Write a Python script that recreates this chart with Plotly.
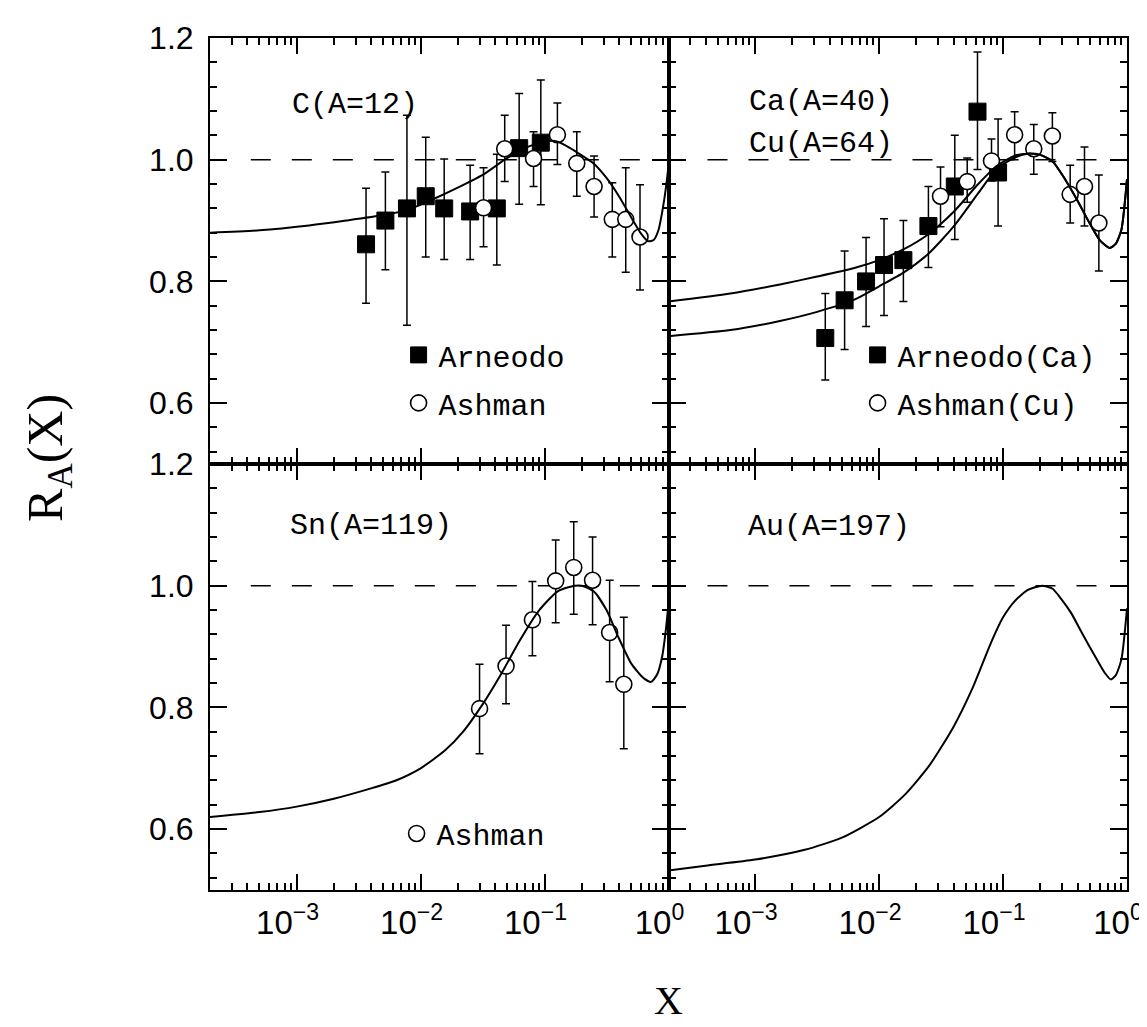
import plotly.graph_objects as go
from plotly.subplots import make_subplots

# ---------------- data ----------------
# C (A=12)
c_arn_x = [0.00363, 0.0052, 0.00776, 0.0110, 0.0155, 0.0251, 0.0412, 0.0624, 0.0933]
c_arn_y = [0.861, 0.900, 0.920, 0.940, 0.920, 0.915, 0.920, 1.019, 1.028]
c_arn_hi = [0.953, 0.980, 1.073, 1.037, 1.001, 0.991, 1.009, 1.109, 1.131]
c_arn_lo = [0.764, 0.819, 0.728, 0.840, 0.836, 0.836, 0.827, 0.927, 0.926]

c_ash_x = [0.0322, 0.0477, 0.0815, 0.127, 0.182, 0.251, 0.352, 0.452, 0.589]
c_ash_y = [0.921, 1.018, 1.002, 1.041, 0.994, 0.956, 0.902, 0.902, 0.873]
c_ash_hi = [0.987, 1.073, 1.046, 1.093, 1.046, 1.006, 0.962, 0.987, 0.959]
c_ash_lo = [0.857, 0.964, 0.956, 0.992, 0.940, 0.906, 0.840, 0.815, 0.786]

c_curve_logx = [-3.7, -3.3, -2.9, -2.6, -2.3, -2.1, -1.9, -1.7, -1.5, -1.3, -1.15, -1.0,
                -0.9, -0.8, -0.7, -0.6, -0.5, -0.4, -0.3, -0.22, -0.165, -0.12, -0.08,
                -0.05, -0.02, 0.0]
c_curve_y = [0.880, 0.884, 0.892, 0.900, 0.909, 0.918, 0.935, 0.954, 0.975, 1.003, 1.020,
             1.030, 1.030, 1.020, 1.007, 0.993, 0.970, 0.940, 0.905, 0.878, 0.866, 0.868,
             0.885, 0.915, 0.955, 0.990]

# Ca (A=40) / Cu (A=64)
ca_arn_x = [0.00368, 0.00527, 0.00785, 0.01096, 0.0157, 0.0250, 0.0408, 0.0622, 0.0912]
ca_arn_y = [0.707, 0.769, 0.800, 0.827, 0.835, 0.891, 0.956, 1.079, 0.979]
ca_arn_hi = [0.780, 0.850, 0.872, 0.903, 0.900, 0.956, 1.040, 1.177, 1.067]
ca_arn_lo = [0.638, 0.688, 0.726, 0.744, 0.767, 0.823, 0.869, 0.984, 0.891]

cu_ash_x = [0.0313, 0.0514, 0.0807, 0.124, 0.177, 0.250, 0.348, 0.454, 0.593]
cu_ash_y = [0.940, 0.964, 0.998, 1.041, 1.018, 1.039, 0.943, 0.956, 0.896]
cu_ash_hi = [0.988, 1.003, 1.034, 1.079, 1.058, 1.077, 0.991, 1.021, 0.975]
cu_ash_lo = [0.890, 0.930, 0.965, 1.000, 0.976, 0.997, 0.896, 0.891, 0.817]

ca_curve_logx = [-3.7, -3.2, -2.8, -2.5, -2.2, -2.0, -1.8, -1.6, -1.4, -1.2, -1.05, -0.9,
                 -0.8, -0.7, -0.6, -0.5, -0.4, -0.3, -0.22, -0.14, -0.09, -0.045, 0.0]
ca_curve_y = [0.767, 0.780, 0.795, 0.808, 0.822, 0.835, 0.853, 0.878, 0.914, 0.960, 0.990,
              1.007, 1.010, 1.008, 0.997, 0.968, 0.933, 0.895, 0.868, 0.855, 0.862, 0.885,
              0.968]
cu_curve_logx = [-3.7, -3.2, -2.8, -2.5, -2.2, -2.0, -1.8, -1.6, -1.4, -1.2, -1.05, -0.9,
                 -0.8, -0.7, -0.6, -0.5, -0.4, -0.3, -0.22, -0.14, -0.09, -0.045, 0.0]
cu_curve_y = [0.710, 0.720, 0.735, 0.750, 0.770, 0.792, 0.815, 0.846, 0.890, 0.945, 0.985,
              1.004, 1.010, 1.008, 0.997, 0.968, 0.933, 0.895, 0.868, 0.855, 0.862, 0.885,
              0.968]

# Sn (A=119)
sn_ash_x = [0.0299, 0.0489, 0.0798, 0.123, 0.172, 0.244, 0.335, 0.436]
sn_ash_y = [0.798, 0.868, 0.944, 1.008, 1.030, 1.009, 0.923, 0.838]
sn_ash_hi = [0.871, 0.935, 1.007, 1.075, 1.105, 1.080, 1.009, 0.948]
sn_ash_lo = [0.724, 0.806, 0.885, 0.939, 0.953, 0.936, 0.842, 0.732]

sn_curve_logx = [-3.7, -3.3, -3.0, -2.7, -2.4, -2.2, -2.0, -1.8, -1.65, -1.5, -1.35, -1.2,
                 -1.05, -0.9, -0.8, -0.7, -0.6, -0.5, -0.41, -0.3, -0.2, -0.14, -0.09,
                 -0.05, -0.02, 0.0]
sn_curve_y = [0.620, 0.628, 0.637, 0.650, 0.667, 0.680, 0.700, 0.730, 0.762, 0.805, 0.855,
              0.910, 0.958, 0.990, 0.998, 1.000, 0.990, 0.960, 0.918, 0.872, 0.848, 0.842,
              0.855, 0.885, 0.930, 0.970]

# Au (A=197)
au_curve_logx = [-3.7, -3.4, -3.0, -2.6, -2.3, -2.0, -1.8, -1.6, -1.4, -1.25, -1.1, -1.0,
                 -0.9, -0.8, -0.685, -0.6, -0.53, -0.45, -0.36, -0.244, -0.18, -0.13,
                 -0.09, -0.045, 0.0]
au_curve_y = [0.532, 0.540, 0.550, 0.566, 0.586, 0.620, 0.655, 0.703, 0.768, 0.830, 0.905,
              0.948, 0.976, 0.993, 1.000, 0.995, 0.978, 0.955, 0.921, 0.879, 0.857, 0.846,
              0.853, 0.879, 0.963]

x_tick_vals = [1e-3, 1e-2, 1e-1, 1.0]
x_tick_text = ["10<sup>\u22123</sup>", "10<sup>\u22122</sup>", "10<sup>\u22121</sup>", "10<sup>0</sup>"]
y_tick_vals = [0.6, 0.8, 1.0, 1.2]
y_tick_text = ["0.6", "0.8", "1.0", "1.2"]

# ---------------- figure ----------------
W, H = 1147, 1027
L, R, T, B = 202, 26, 15, 145
PW, PH = W - L - R, H - T - B


def px(xp):
    return (xp - L) / PW


def py(yp):
    return 1 - (yp - T) / PH


fig = make_subplots(rows=2, cols=2, horizontal_spacing=0, vertical_spacing=0)

MONO = "Liberation Mono, Courier New, monospace"
TICKF = "Liberation Sans Narrow, Liberation Sans, Arial, sans-serif"


def err(y, hi, lo):
    return dict(type="data", symmetric=False,
                array=[h - v for h, v in zip(hi, y)],
                arrayminus=[v - l for v, l in zip(y, lo)],
                color="black", thickness=1.5, width=4)


def squares(x, y, hi, lo, name, legend, row, col):
    fig.add_trace(go.Scatter(x=x, y=y, mode="markers", name=name, legend=legend,
                             legendgroup=name + legend,
                             marker=dict(symbol="square", size=17, color="black",
                                         line=dict(color="black", width=1)),
                             error_y=err(y, hi, lo)), row=row, col=col)


def circles(x, y, hi, lo, name, legend, row, col):
    fig.add_trace(go.Scatter(x=x, y=y, mode="markers", name=name, legend=legend,
                             legendgroup=name + legend,
                             marker=dict(symbol="circle", size=16, color="white",
                                         line=dict(color="black", width=1.6)),
                             error_y=err(y, hi, lo)), row=row, col=col)


def curve(lx, y, row, col):
    fig.add_trace(go.Scatter(x=[10 ** v for v in lx], y=y, mode="lines",
                             line=dict(color="black", width=2, shape="spline", smoothing=0.6),
                             showlegend=False, hoverinfo="skip"), row=row, col=col)


squares(c_arn_x, c_arn_y, c_arn_hi, c_arn_lo, "Arneodo", "legend", 1, 1)
circles(c_ash_x, c_ash_y, c_ash_hi, c_ash_lo, "Ashman", "legend", 1, 1)
curve(c_curve_logx, c_curve_y, 1, 1)

squares(ca_arn_x, ca_arn_y, ca_arn_hi, ca_arn_lo, "Arneodo(Ca)", "legend2", 1, 2)
circles(cu_ash_x, cu_ash_y, cu_ash_hi, cu_ash_lo, "Ashman(Cu)", "legend2", 1, 2)
curve(ca_curve_logx, ca_curve_y, 1, 2)
curve(cu_curve_logx, cu_curve_y, 1, 2)

circles(sn_ash_x, sn_ash_y, sn_ash_hi, sn_ash_lo, "Ashman", "legend3", 2, 1)
curve(sn_curve_logx, sn_curve_y, 2, 1)

curve(au_curve_logx, au_curve_y, 2, 2)

minor_x = [m * 10.0 ** e for e in range(-4, 0) for m in range(2, 10)]
minor_y = [0.52, 0.56, 0.64, 0.68, 0.72, 0.76, 0.84, 0.88, 0.92, 0.96, 1.04, 1.08, 1.12, 1.16]

for r, c in [(1, 1), (1, 2), (2, 1), (2, 2)]:
    fig.update_xaxes(type="log", range=[-3.699, 0.0], showline=True, linecolor="black",
                     linewidth=2, mirror="ticks", ticks="inside", ticklen=16, tickwidth=1.5,
                     tickcolor="black", tickmode="array", tickvals=x_tick_vals,
                     ticktext=x_tick_text, showticklabels=(r == 2), showgrid=False,
                     zeroline=False, ticklabelshift=-9, ticklabelstandoff=2,
                     tickfont=dict(family=TICKF, size=33, color="black"),
                     minor=dict(ticks="inside", ticklen=7, tickwidth=1.5, tickcolor="black",
                                tickmode="array", tickvals=minor_x, showgrid=False),
                     row=r, col=c)
    fig.update_yaxes(range=[0.5, 1.2], showline=True, linecolor="black", linewidth=2,
                     mirror="ticks", ticks="inside", ticklen=17, tickwidth=1.5,
                     tickcolor="black", tickmode="array", tickvals=y_tick_vals,
                     ticktext=y_tick_text, showticklabels=(c == 1), showgrid=False,
                     zeroline=False, ticklabelstandoff=8,
                     tickfont=dict(family=TICKF, size=32, color="black"),
                     minor=dict(ticks="inside", ticklen=7, tickwidth=1.5, tickcolor="black",
                                tickmode="array", tickvals=minor_y, showgrid=False),
                     row=r, col=c)

# dashed R=1 reference lines
for xr, yr, start in [("x", "y", 0.089), ("x2", "y2", 0.085), ("x3", "y3", 0.089), ("x4", "y4", 0.085)]:
    fig.add_shape(type="line", xref=xr + " domain", yref=yr, x0=start, x1=1.0, y0=1.0, y1=1.0,
                  line=dict(color="black", width=1.5, dash="20px,21px"), layer="below")

# panel labels
labels = [("C(A=12)", 282, 83), ("Ca(A=40)", 740, 80), ("Cu(A=64)", 740, 123),
          ("Sn(A=119)", 280, 512), ("Au(A=197)", 739, 513)]
for txt, xp, yp in labels:
    fig.add_annotation(text=txt, xref="paper", yref="paper", x=px(xp), y=py(yp),
                       xanchor="left", yanchor="middle", showarrow=False,
                       font=dict(family=MONO, size=30, color="black"))

# axis titles
fig.add_annotation(text="R<sub>A</sub>(X)", xref="paper", yref="paper", x=px(40), y=py(442),
                   xanchor="center", yanchor="middle", textangle=-90, showarrow=False,
                   font=dict(family="Liberation Serif, DejaVu Serif, serif", size=50, color="black"))
fig.add_annotation(text="X", xref="paper", yref="paper", x=px(661), y=py(994),
                   xanchor="center", yanchor="middle", showarrow=False,
                   font=dict(family="Liberation Serif, DejaVu Serif, serif", size=40, color="black"))

leg_common = dict(bgcolor="rgba(0,0,0,0)", borderwidth=0, xanchor="left", yanchor="top",
                  font=dict(family=MONO, size=30, color="black"), tracegroupgap=6,
                  itemsizing="trace")
fig.update_layout(
    width=W, height=H, margin=dict(l=L, r=R, t=T, b=B),
    paper_bgcolor="white", plot_bgcolor="white",
    legend=dict(x=px(391), y=py(311), **leg_common),
    legend2=dict(x=px(851), y=py(311), **leg_common),
    legend3=dict(x=px(389), y=py(798), **leg_common),
)

fig.write_html("out.html")
